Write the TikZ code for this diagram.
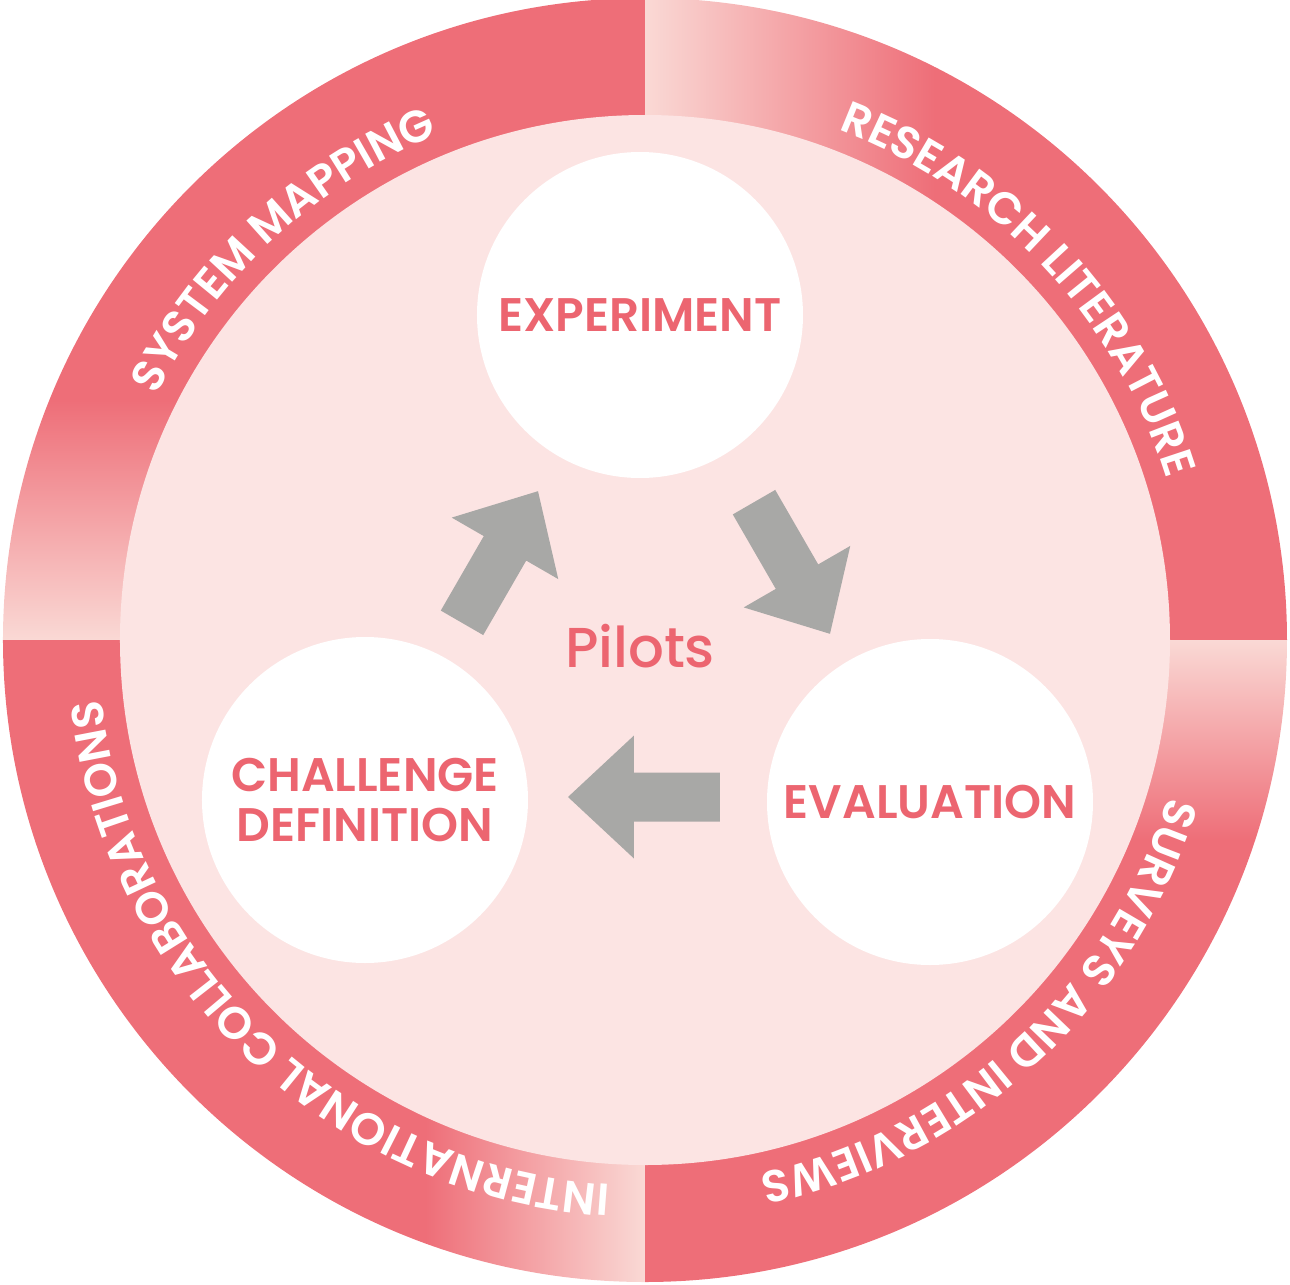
\documentclass[tikz,border=0pt]{standalone}
\usepackage{fontspec}
\setmainfont{Poppins}
\newfontfamily\semibfam{Poppins SemiBold}
\newfontfamily\mediumfam{Poppins Medium}
\usetikzlibrary{decorations.text}
\definecolor{ringpink}{HTML}{EE6E78}
\definecolor{ringlight}{HTML}{FAD9D5}
\definecolor{diskpink}{HTML}{FCE4E3}
\definecolor{labelpink}{HTML}{EC6570}
\definecolor{arrowgray}{HTML}{A8A8A6}
\newcommand{\ringfont}{\semibfam\fontsize{12.8}{15}\selectfont}
\tikzset{
  stage/.style={circle, fill=white, minimum size=3.26cm, inner sep=0pt, align=center,
    text=labelpink, font=\semibfam\fontsize{13.4}{14.2}\selectfont},
  ringtext/.style={decorate, decoration={text along path, text align=center, text color=white}},
  blockarrow/.pic={\fill[arrowgray] (-0.76,-0.245) -- (0.10,-0.245) -- (0.10,-0.615) -- (0.76,0)
    -- (0.10,0.615) -- (0.10,0.245) -- (-0.76,0.245) -- cycle;},
}
\begin{document}
\begin{tikzpicture}
\useasboundingbox (-6.45,-6.44) rectangle (6.45,6.40);
% ring quadrants
\begin{scope}
  \clip (0,0) -- (0:6.42) arc[start angle=0,end angle=90,radius=6.42] -- cycle;
  \shade[left color=ringlight,right color=ringpink] (0,0) rectangle (2.9,6.5);
  \fill[ringpink] (2.9,0) rectangle (6.5,6.5);
\end{scope}
\begin{scope}
  \clip (0,0) -- (90:6.42) arc[start angle=90,end angle=180,radius=6.42] -- cycle;
  \shade[bottom color=ringlight,top color=ringpink] (-6.5,0) rectangle (0,2.4);
  \fill[ringpink] (-6.5,2.4) rectangle (0,6.5);
\end{scope}
\begin{scope}
  \clip (0,0) -- (180:6.42) arc[start angle=180,end angle=270,radius=6.42] -- cycle;
  \shade[right color=ringlight,left color=ringpink] (-2.2,-6.5) rectangle (0,0);
  \fill[ringpink] (-6.5,-6.5) rectangle (-2.2,0);
\end{scope}
\begin{scope}
  \clip (0,0) -- (270:6.42) arc[start angle=270,end angle=360,radius=6.42] -- cycle;
  \shade[top color=ringlight,bottom color=ringpink] (0,-2.0) rectangle (6.5,0);
  \fill[ringpink] (0,-6.5) rectangle (6.5,-2.0);
\end{scope}
% inner disk
\fill[diskpink] (0,0) circle (5.25);
% ring texts
\path[ringtext, decoration={text={|\ringfont|SYSTEM MAPPING}}]
  (182.8:5.46) arc[start angle=182.8,end angle=82.8,radius=5.46];
\path[ringtext, decoration={text={|\ringfont|RESEARCH LITERATURE}}]
  (93.2:5.46) arc[start angle=93.2,end angle=-6.8,radius=5.46];
\path[ringtext, decoration={text={|\ringfont|SURVEYS AND INTERVIEWS}}]
  (2.7:5.46) arc[start angle=2.7,end angle=-97.3,radius=5.46];
\path[ringtext, decoration={text={|\ringfont|INTERNATIONAL COLLABORATIONS}}]
  (281.3:5.46) arc[start angle=281.3,end angle=171.3,radius=5.46];
% stages
\node[stage] (exp) at (-0.05,3.25) {EXPERIMENT};
\node[stage] (eval) at (2.85,-1.62) {EVALUATION};
\node[stage] (chal) at (-2.80,-1.60) {CHALLENGE\\DEFINITION};
\node[text=labelpink, font=\mediumfam\fontsize{16}{20}\selectfont] (pilots) at (-0.05,-0.06) {Pilots};
% block arrows
\pic[rotate=60] (a1) at (-1.45,0.83) {blockarrow};
\pic[rotate=-60] (a2) at (1.47,0.72) {blockarrow};
\pic[rotate=180] (a3) at (-0.01,-1.57) {blockarrow};
\end{tikzpicture}
\end{document}
